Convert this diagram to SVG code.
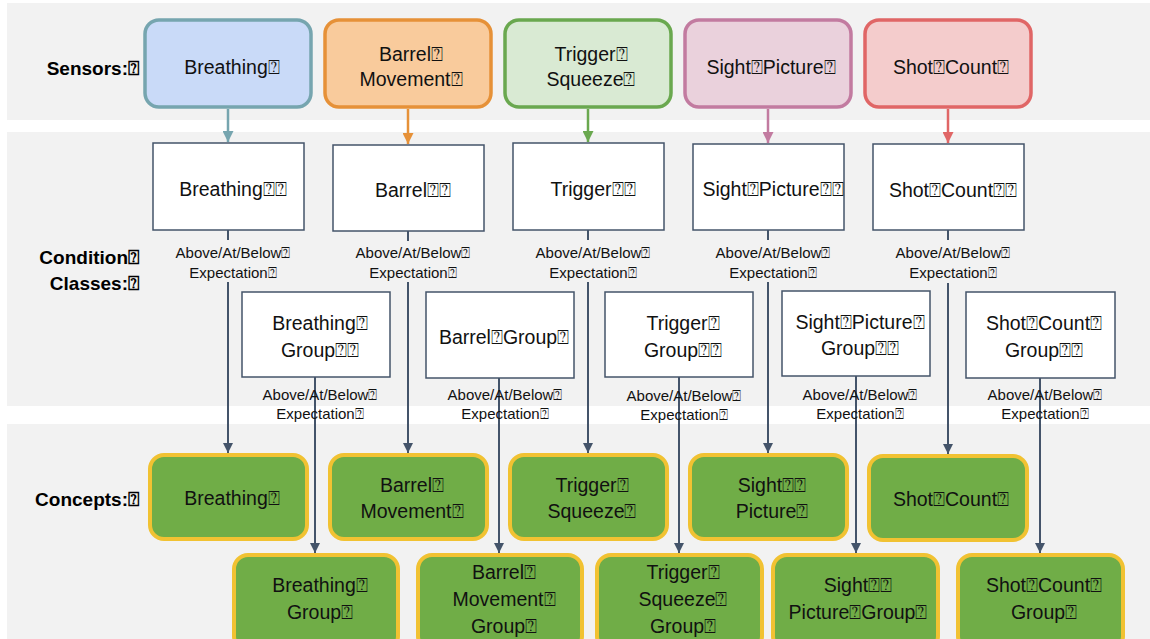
<svg xmlns="http://www.w3.org/2000/svg" width="1150" height="639" viewBox="0 0 1150 639">
<style>
.band{fill:#f2f2f2}
.t{font-family:"Liberation Sans",Arial,sans-serif;font-size:19.5px;fill:#111;text-anchor:middle}
.lbl{font-family:"Liberation Sans",Arial,sans-serif;font-size:19px;font-weight:bold;fill:#000;text-anchor:end}
.small{font-family:"Liberation Sans",Arial,sans-serif;font-size:15px;fill:#111;text-anchor:middle}
.cond{fill:#fff;stroke:#44546a;stroke-width:1.5}
.concept{fill:#70ad47;stroke:#f1c232;stroke-width:4}
.sens{stroke-width:3.5}
.conn{stroke:#44546a;stroke-width:2;fill:none}
</style>
<defs>
<marker id="aS" viewBox="0 0 10 10" refX="10" refY="5" markerWidth="10" markerHeight="10" markerUnits="userSpaceOnUse" orient="auto"><path d="M0,0 L10,5 L0,10 z" fill="#44546a"/></marker>
<marker id="a1" viewBox="0 0 10 10" refX="10" refY="5" markerWidth="11" markerHeight="11" markerUnits="userSpaceOnUse" orient="auto"><path d="M0,0 L10,5 L0,10 z" fill="#76a5af"/></marker>
<marker id="a2" viewBox="0 0 10 10" refX="10" refY="5" markerWidth="11" markerHeight="11" markerUnits="userSpaceOnUse" orient="auto"><path d="M0,0 L10,5 L0,10 z" fill="#e69138"/></marker>
<marker id="a3" viewBox="0 0 10 10" refX="10" refY="5" markerWidth="11" markerHeight="11" markerUnits="userSpaceOnUse" orient="auto"><path d="M0,0 L10,5 L0,10 z" fill="#6aa84f"/></marker>
<marker id="a4" viewBox="0 0 10 10" refX="10" refY="5" markerWidth="11" markerHeight="11" markerUnits="userSpaceOnUse" orient="auto"><path d="M0,0 L10,5 L0,10 z" fill="#c27ba0"/></marker>
<marker id="a5" viewBox="0 0 10 10" refX="10" refY="5" markerWidth="11" markerHeight="11" markerUnits="userSpaceOnUse" orient="auto"><path d="M0,0 L10,5 L0,10 z" fill="#e06666"/></marker>
</defs>

<g id="bands">
<rect class="band" x="7" y="3" width="1143" height="117"/>
<rect class="band" x="7" y="132" width="1143" height="274"/>
<rect class="band" x="7" y="424" width="1143" height="215"/>
</g>

<g id="row-labels">
<text class="lbl" x="139" y="75">Sensors:⍰</text>
<text class="lbl" x="139" y="264">Condition⍰</text>
<text class="lbl" x="139" y="290">Classes:⍰</text>
<text class="lbl" x="139" y="506">Concepts:⍰</text>
</g>

<g id="sensor-breathing"><rect class="sens" x="145" y="20" width="166" height="87" rx="14" fill="#c9daf8" stroke="#76a5af"/><text class="t" x="232" y="74">Breathing⍰</text></g>
<g id="sensor-barrel"><rect class="sens" x="325" y="20" width="166" height="87" rx="14" fill="#f9cb9c" stroke="#e69138"/><text class="t" x="411" y="61">Barrel⍰</text><text class="t" x="411" y="86">Movement⍰</text></g>
<g id="sensor-trigger"><rect class="sens" x="505" y="20" width="166" height="87" rx="14" fill="#d9ead3" stroke="#6aa84f"/><text class="t" x="591" y="61">Trigger⍰</text><text class="t" x="591" y="86">Squeeze⍰</text></g>
<g id="sensor-sight"><rect class="sens" x="685" y="20" width="166" height="87" rx="14" fill="#ead1dc" stroke="#c27ba0"/><text class="t" x="771" y="74">Sight⍰Picture⍰</text></g>
<g id="sensor-shot"><rect class="sens" x="865" y="20" width="166" height="87" rx="14" fill="#f4cccc" stroke="#e06666"/><text class="t" x="951" y="74">Shot⍰Count⍰</text></g>

<g id="cond-breathing"><rect class="cond" x="153" y="143" width="151" height="87"/><text class="t" x="233" y="196">Breathing⍰⍰</text></g>
<g id="cond-barrel"><rect class="cond" x="333" y="145" width="151" height="86"/><text class="t" x="413" y="197">Barrel⍰⍰</text></g>
<g id="cond-trigger"><rect class="cond" x="513" y="143" width="151" height="87"/><text class="t" x="593" y="196">Trigger⍰⍰</text></g>
<g id="cond-sight"><rect class="cond" x="693" y="144" width="151" height="86"/><text class="t" x="773" y="196">Sight⍰Picture⍰⍰</text></g>
<g id="cond-shot"><rect class="cond" x="873" y="144" width="151" height="86"/><text class="t" x="953" y="197">Shot⍰Count⍰⍰</text></g>

<g id="cond-breathing-group"><rect class="cond" x="242" y="292" width="148" height="85"/><text class="t" x="320" y="330">Breathing⍰</text><text class="t" x="320" y="357">Group⍰⍰</text></g>
<g id="cond-barrel-group"><rect class="cond" x="426" y="292" width="148" height="86"/><text class="t" x="504" y="344">Barrel⍰Group⍰</text></g>
<g id="cond-trigger-group"><rect class="cond" x="605" y="292" width="148" height="85"/><text class="t" x="683" y="330">Trigger⍰</text><text class="t" x="683" y="357">Group⍰⍰</text></g>
<g id="cond-sight-group"><rect class="cond" x="782" y="291" width="148" height="85"/><text class="t" x="860" y="329">Sight⍰Picture⍰</text><text class="t" x="860" y="355">Group⍰⍰</text></g>
<g id="cond-shot-group"><rect class="cond" x="966" y="292" width="149" height="86"/><text class="t" x="1044" y="330">Shot⍰Count⍰</text><text class="t" x="1044" y="357">Group⍰⍰</text></g>

<g id="concept-breathing"><rect class="concept" x="150" y="455" width="157" height="84" rx="14"/><text class="t" x="232" y="505">Breathing⍰</text></g>
<g id="concept-barrel"><rect class="concept" x="330" y="455" width="157" height="84" rx="14"/><text class="t" x="412" y="492">Barrel⍰</text><text class="t" x="412" y="518">Movement⍰</text></g>
<g id="concept-trigger"><rect class="concept" x="510" y="455" width="157" height="84" rx="14"/><text class="t" x="592" y="492">Trigger⍰</text><text class="t" x="592" y="518">Squeeze⍰</text></g>
<g id="concept-sight"><rect class="concept" x="690" y="455" width="157" height="84" rx="14"/><text class="t" x="772" y="492">Sight⍰⍰</text><text class="t" x="772" y="518">Picture⍰</text></g>
<g id="concept-shot"><rect class="concept" x="869" y="456" width="158" height="84" rx="14"/><text class="t" x="951" y="506">Shot⍰Count⍰</text></g>

<g id="concept-breathing-group"><rect class="concept" x="234" y="555" width="164" height="95" rx="14"/><text class="t" x="320" y="592">Breathing⍰</text><text class="t" x="320" y="619">Group⍰</text></g>
<g id="concept-barrel-group"><rect class="concept" x="418" y="555" width="164" height="95" rx="14"/><text class="t" x="504" y="579">Barrel⍰</text><text class="t" x="504" y="606">Movement⍰</text><text class="t" x="504" y="633">Group⍰</text></g>
<g id="concept-trigger-group"><rect class="concept" x="597" y="555" width="165" height="95" rx="14"/><text class="t" x="683" y="579">Trigger⍰</text><text class="t" x="683" y="606">Squeeze⍰</text><text class="t" x="683" y="633">Group⍰</text></g>
<g id="concept-sight-group"><rect class="concept" x="773" y="555" width="165" height="95" rx="14"/><text class="t" x="858" y="592">Sight⍰⍰</text><text class="t" x="858" y="619">Picture⍰Group⍰</text></g>
<g id="concept-shot-group"><rect class="concept" x="958" y="555" width="165" height="95" rx="14"/><text class="t" x="1044" y="592">Shot⍰Count⍰</text><text class="t" x="1044" y="619">Group⍰</text></g>

<g id="connectors">
<line x1="228" y1="109" x2="228" y2="142" stroke="#76a5af" stroke-width="2.5" marker-end="url(#a1)"/>
<line x1="408" y1="109" x2="408" y2="144" stroke="#e69138" stroke-width="2.5" marker-end="url(#a2)"/>
<line x1="588" y1="109" x2="588" y2="142" stroke="#6aa84f" stroke-width="2.5" marker-end="url(#a3)"/>
<line x1="768" y1="109" x2="768" y2="143" stroke="#c27ba0" stroke-width="2.5" marker-end="url(#a4)"/>
<line x1="948" y1="109" x2="948" y2="143" stroke="#e06666" stroke-width="2.5" marker-end="url(#a5)"/>

<line class="conn" x1="228" y1="230" x2="228" y2="240"/>
<line class="conn" x1="228" y1="282" x2="228" y2="453" marker-end="url(#aS)"/>
<line class="conn" x1="408" y1="231" x2="408" y2="241"/>
<line class="conn" x1="408" y1="282" x2="408" y2="453" marker-end="url(#aS)"/>
<line class="conn" x1="588" y1="230" x2="588" y2="240"/>
<line class="conn" x1="588" y1="282" x2="588" y2="453" marker-end="url(#aS)"/>
<line class="conn" x1="768" y1="230" x2="768" y2="240"/>
<line class="conn" x1="768" y1="282" x2="768" y2="453" marker-end="url(#aS)"/>
<line class="conn" x1="948" y1="230" x2="948" y2="240"/>
<line class="conn" x1="948" y1="283" x2="948" y2="454" marker-end="url(#aS)"/>

<line class="conn" x1="315" y1="377" x2="315" y2="553" marker-end="url(#aS)"/>
<line class="conn" x1="499" y1="378" x2="499" y2="553" marker-end="url(#aS)"/>
<line class="conn" x1="679" y1="377" x2="679" y2="553" marker-end="url(#aS)"/>
<line class="conn" x1="856" y1="376" x2="856" y2="553" marker-end="url(#aS)"/>
<line class="conn" x1="1040" y1="378" x2="1040" y2="553" marker-end="url(#aS)"/>

<g id="edge-labels">
<text class="small" x="233" y="258">Above/At/Below⍰</text><text class="small" x="233" y="278">Expectation⍰</text>
<text class="small" x="413" y="258">Above/At/Below⍰</text><text class="small" x="413" y="278">Expectation⍰</text>
<text class="small" x="593" y="258">Above/At/Below⍰</text><text class="small" x="593" y="278">Expectation⍰</text>
<text class="small" x="773" y="258">Above/At/Below⍰</text><text class="small" x="773" y="278">Expectation⍰</text>
<text class="small" x="953" y="258">Above/At/Below⍰</text><text class="small" x="953" y="278">Expectation⍰</text>
<text class="small" x="320" y="400">Above/At/Below⍰</text><text class="small" x="320" y="419">Expectation⍰</text>
<text class="small" x="505" y="400">Above/At/Below⍰</text><text class="small" x="505" y="419">Expectation⍰</text>
<text class="small" x="684" y="401">Above/At/Below⍰</text><text class="small" x="684" y="420">Expectation⍰</text>
<text class="small" x="860" y="400">Above/At/Below⍰</text><text class="small" x="860" y="419">Expectation⍰</text>
<text class="small" x="1045" y="400">Above/At/Below⍰</text><text class="small" x="1045" y="419">Expectation⍰</text>
</g>
</g>
</svg>
